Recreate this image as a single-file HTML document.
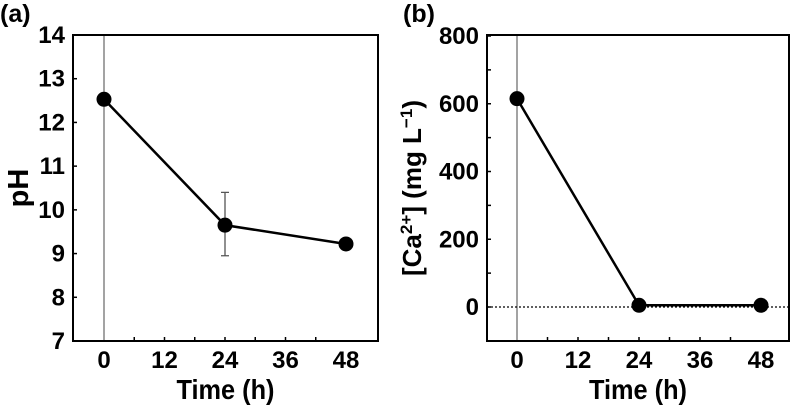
<!DOCTYPE html>
<html><head><meta charset="utf-8"><style>
html,body{margin:0;padding:0;background:#fff;}
svg{display:block;font-family:"Liberation Sans",sans-serif;}
text{fill:#000;}
</style></head><body>
<svg id="c" width="793" height="407"></svg>
<script>
const times=[0,24,48];
const phValues=[12.53,9.65,9.22];
const phErrLow=[12.53,8.95,9.22];
const phErrHigh=[12.53,10.4,9.22];
const caValues=[615,5,5];
const xTicks=[0,12,24,36,48];
const phTicks=[7,8,9,10,11,12,13,14];
const caTicks=[0,200,400,600,800];
const NS='http://www.w3.org/2000/svg';
const svg=document.getElementById('c');
function el(t,a,p){const e=document.createElementNS(NS,t);for(const k in a)e.setAttribute(k,a[k]);(p||svg).appendChild(e);return e;}
function panel(o){
  const g=el('g',{});
  
  
  const X=v=>o.x0+(v-0)*(o.x48-o.x0)/48;
  const Y=v=>o.yA+(v-o.vA)*(o.yB-o.yA)/(o.vB-o.vA);
  const vl=el('line',{x1:X(0),x2:X(0),y1:o.top,y2:o.bot,stroke:'#666','stroke-width':1.2},g);
  
  if(o.zeroLine){const z=el('line',{x1:o.left,x2:o.right,y1:Y(0),y2:Y(0),stroke:'#000','stroke-width':1.2,'stroke-dasharray':'2,2'},g);
    }
  const fr=el('rect',{x:o.left,y:o.top,width:o.right-o.left,height:o.bot-o.top,fill:'none',stroke:'#000','stroke-width':2},g);
  
  for(let h=6;h<48;h+=6){el('line',{x1:X(h),x2:X(h),y1:o.bot,y2:o.bot-4,stroke:'#000','stroke-width':1.5},g);}
  xTicks.forEach(v=>{const t=el('text',{x:X(v),y:o.bot+27,'text-anchor':'middle','font-size':24,'font-weight':'bold'},g);t.textContent=v;
    });
  o.minor.forEach(v=>{el('line',{x1:o.left,x2:o.left+4,y1:Y(v),y2:Y(v),stroke:'#000','stroke-width':1.5},g);});
  o.ticks.forEach(v=>{const t=el('text',{x:o.left-8,y:Y(v)+8,'text-anchor':'end','font-size':24,'font-weight':'bold'},g);t.textContent=v;
    });
  const xt=el('text',{x:(o.left+o.right)/2,y:399,'text-anchor':'middle','font-size':28,'font-weight':'bold',textLength:98,lengthAdjust:'spacingAndGlyphs'},g);xt.textContent='Time (h)';
  
  const yt=el('text',{x:0,y:0,'text-anchor':'middle','font-size':o.ytsize,'font-weight':'bold',transform:`translate(${o.ytx},${(o.top+o.bot)/2}) rotate(-90)`},g);
  yt.innerHTML=o.ytitle;
  
  const lab=el('text',{x:o.labx,y:22,'font-size':25,'font-weight':'bold'},g);lab.textContent=o.label;
  
  if(o.errLow){times.forEach((t,i)=>{if(o.errHigh[i]-o.errLow[i]<0.01)return;
    const e=el('path',{d:`M${X(t)},${Y(o.errLow[i])}V${Y(o.errHigh[i])}M${X(t)-4},${Y(o.errLow[i])}h8M${X(t)-4},${Y(o.errHigh[i])}h8`,stroke:'#555','stroke-width':1.3,fill:'none'},g);
    });}
  const ln=el('polyline',{points:times.map((t,i)=>X(t)+','+Y(o.vals[i])).join(' '),fill:'none',stroke:'#000','stroke-width':2.5},g);
  
  times.forEach((t,i)=>{const c=el('circle',{cx:X(t),cy:Y(o.vals[i]),r:7.5,fill:'#000'},g);
    });
}
panel({name:'ph-panel',left:73,right:378,top:35,bot:341,x0:104,x48:346,yA:341,vA:7,yB:35,vB:14,
  ticks:phTicks,minor:phTicks,vals:phValues,errLow:phErrLow,errHigh:phErrHigh,ytitle:'pH',ytx:28,ytsize:29,label:'(a)',labx:0});
panel({name:'calcium-panel',left:487,right:789,top:35,bot:341,x0:517,x48:761,yA:307,vA:0,yB:36,vB:800,
  ticks:caTicks,minor:[-100,0,100,200,300,400,500,600,700,800],vals:caValues,zeroLine:true,ytsize:26,
  ytitle:'[Ca<tspan font-size="17" dy="-9">2+</tspan><tspan dy="9">] (mg L</tspan><tspan font-size="17" dy="-9">−1</tspan><tspan dy="9">)</tspan>',ytx:421,label:'(b)',labx:403});
</script>
</body></html>
